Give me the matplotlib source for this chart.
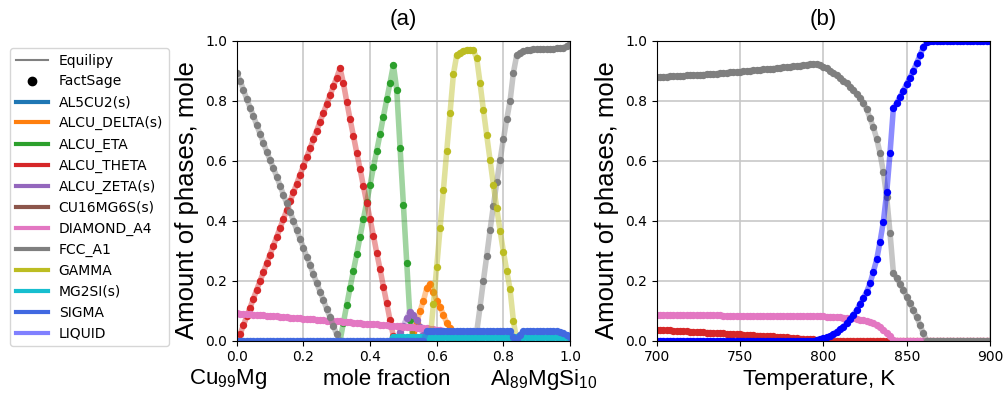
import numpy as np
import matplotlib
matplotlib.use("Agg")
import matplotlib.pyplot as plt
from matplotlib.lines import Line2D

plt.rcParams['mathtext.default'] = 'regular'
LABEL_FONT = ['Liberation Sans', 'DejaVu Sans']

# ---------------- panel (a): composition scan, step 0.01 ----------------
STEP_A = 0.01

fcc_a1_a_lo_start = 0.00
fcc_a1_a_lo = [0.891, 0.867, 0.836, 0.806, 0.777, 0.749, 0.719, 0.689, 0.660, 0.630,
               0.602, 0.575, 0.547, 0.517, 0.486, 0.458, 0.430, 0.400, 0.369, 0.339,
               0.310, 0.280, 0.252, 0.221, 0.193, 0.163, 0.136, 0.105, 0.078, 0.049,
               0.021, 0.0]
fcc_a1_a_hi_start = 0.71
fcc_a1_a_hi = [0.0, 0.030, 0.113, 0.200, 0.283, 0.369, 0.450, 0.528, 0.602, 0.672,
               0.738, 0.799, 0.893, 0.952, 0.960, 0.965, 0.968, 0.970, 0.971, 0.972,
               0.972, 0.973, 0.973, 0.973, 0.973, 0.974, 0.975, 0.977, 0.982, 0.990]

theta_a_start = 0.00
theta_a = [0.0, 0.022, 0.051, 0.081, 0.110, 0.140, 0.170, 0.199, 0.228, 0.258,
           0.287, 0.317, 0.346, 0.376, 0.405, 0.435, 0.464, 0.494, 0.523, 0.553,
           0.582, 0.612, 0.641, 0.671, 0.700, 0.730, 0.759, 0.789, 0.818, 0.848,
           0.877, 0.908, 0.858, 0.797, 0.738, 0.683, 0.627, 0.572, 0.515, 0.460,
           0.405, 0.350, 0.293, 0.238, 0.180, 0.125, 0.068, 0.015, 0.0]

eta_a_start = 0.31
eta_a = [0.0, 0.060, 0.119, 0.177, 0.233, 0.289, 0.347, 0.405, 0.462, 0.519,
         0.578, 0.633, 0.689, 0.747, 0.804, 0.860, 0.919, 0.836, 0.643, 0.453,
         0.260, 0.070, 0.0]

zeta_a_start = 0.48
zeta_a = [0.0, 0.030, 0.050, 0.075, 0.097, 0.085, 0.068, 0.045, 0.020, 0.0]

delta_a_start = 0.52
delta_a = [0.0, 0.030, 0.060, 0.099, 0.133, 0.175, 0.189, 0.163, 0.133, 0.113,
           0.086, 0.060, 0.043, 0.020, 0.0]

gamma_a_start = 0.58
gamma_a = [0.0, 0.122, 0.247, 0.375, 0.502, 0.632, 0.760, 0.888, 0.952, 0.960,
           0.966, 0.970, 0.970, 0.968, 0.941, 0.858, 0.769, 0.684, 0.602, 0.519,
           0.441, 0.367, 0.297, 0.233, 0.171, 0.066, 0.0]

diamond_a_start = 0.00
diamond_a = [0.091, 0.090, 0.089, 0.089, 0.088, 0.087, 0.086, 0.085, 0.084, 0.083,
             0.082, 0.081, 0.081, 0.080, 0.079, 0.078, 0.077, 0.076, 0.075, 0.074,
             0.073, 0.073, 0.072, 0.071, 0.070, 0.069, 0.068, 0.067, 0.066, 0.065,
             0.064, 0.064, 0.063, 0.062, 0.061, 0.060, 0.059, 0.058, 0.057, 0.056,
             0.056, 0.055, 0.054, 0.053, 0.052, 0.051, 0.050, 0.049, 0.049, 0.048,
             0.047, 0.046, 0.045, 0.044, 0.043, 0.043, 0.042, 0.041, 0.040, 0.038,
             0.036, 0.034, 0.032, 0.030, 0.028, 0.026, 0.024, 0.022, 0.020, 0.0]

mg2si_a_start = 0.46
mg2si_a = [0.0, 0.012, 0.012, 0.012, 0.012, 0.012, 0.012, 0.012, 0.012, 0.012,
           0.012, 0.012, 0.012, 0.012, 0.012, 0.012, 0.012, 0.012, 0.012, 0.012,
           0.012, 0.012, 0.012, 0.012, 0.012, 0.012, 0.012, 0.012, 0.012, 0.012,
           0.012, 0.012, 0.012, 0.012, 0.012, 0.012, 0.012, 0.012, 0.012, 0.012,
           0.012, 0.012, 0.012, 0.012, 0.012, 0.012, 0.012, 0.012, 0.012, 0.012,
           0.012, 0.012, 0.012, 0.012, 0.012]

sigma_a_start = 0.00
sigma_a = [0.0, 0.0, 0.0, 0.0, 0.0, 0.0, 0.0, 0.0, 0.0, 0.0,
           0.0, 0.0, 0.0, 0.0, 0.0, 0.0, 0.0, 0.0, 0.0, 0.0,
           0.0, 0.0, 0.0, 0.0, 0.0, 0.0, 0.0, 0.0, 0.0, 0.0,
           0.0, 0.0, 0.0, 0.0, 0.0, 0.0, 0.0, 0.0, 0.0, 0.0,
           0.0, 0.0, 0.0, 0.0, 0.0, 0.0, 0.0, 0.0, 0.0, 0.0,
           0.0, 0.0, 0.0, 0.0, 0.0, 0.0, 0.0, 0.032, 0.032, 0.032,
           0.032, 0.032, 0.032, 0.032, 0.032, 0.032, 0.032, 0.032, 0.032, 0.032,
           0.032, 0.032, 0.032, 0.032, 0.032, 0.032, 0.032, 0.032, 0.032, 0.032,
           0.032, 0.032, 0.032, 0.012, 0.005, 0.020, 0.032, 0.032, 0.032, 0.032,
           0.032, 0.032, 0.032, 0.032, 0.032, 0.032, 0.031, 0.029, 0.025, 0.019,
           0.013]

# ---------------- panel (b): temperature scan, step 2 K ----------------
STEP_B = 2
T0 = 700

fcc_a1_b = [0.879, 0.879, 0.880, 0.880, 0.881, 0.881, 0.882, 0.882, 0.883, 0.884,
            0.884, 0.885, 0.886, 0.886, 0.887, 0.888, 0.889, 0.889, 0.890, 0.891,
            0.892, 0.893, 0.894, 0.895, 0.896, 0.897, 0.898, 0.899, 0.900, 0.901,
            0.902, 0.903, 0.904, 0.905, 0.906, 0.907, 0.909, 0.910, 0.911, 0.912,
            0.913, 0.915, 0.916, 0.917, 0.919, 0.920, 0.921, 0.922, 0.923, 0.918,
            0.913, 0.908, 0.900, 0.893, 0.886, 0.877, 0.867, 0.858, 0.847, 0.836,
            0.822, 0.810, 0.793, 0.771, 0.741, 0.711, 0.673, 0.624, 0.562, 0.478,
            0.358, 0.227, 0.208, 0.189, 0.169, 0.147, 0.124, 0.102, 0.080, 0.052,
            0.024, 0.0, 0.0, 0.0, 0.0, 0.0, 0.0, 0.0, 0.0, 0.0,
            0.0, 0.0, 0.0, 0.0, 0.0, 0.0, 0.0, 0.0, 0.0, 0.0,
            0.0]

liquid_b = [0.0, 0.0, 0.0, 0.0, 0.0, 0.0, 0.0, 0.0, 0.0, 0.0,
            0.0, 0.0, 0.0, 0.0, 0.0, 0.0, 0.0, 0.0, 0.0, 0.0,
            0.0, 0.0, 0.0, 0.0, 0.0, 0.0, 0.0, 0.0, 0.0, 0.0,
            0.0, 0.0, 0.0, 0.0, 0.0, 0.0, 0.0, 0.0, 0.0, 0.0,
            0.0, 0.0, 0.0, 0.0, 0.0, 0.0, 0.0, 0.0, 0.002, 0.005,
            0.008, 0.011, 0.016, 0.022, 0.030, 0.038, 0.047, 0.058, 0.071, 0.086,
            0.102, 0.122, 0.141, 0.163, 0.191, 0.230, 0.271, 0.330, 0.397, 0.494,
            0.627, 0.775, 0.791, 0.813, 0.833, 0.856, 0.877, 0.900, 0.925, 0.952,
            0.978, 0.995, 1.0, 1.0, 1.0, 1.0, 1.0, 1.0, 1.0, 1.0,
            1.0, 1.0, 1.0, 1.0, 1.0, 1.0, 1.0, 1.0, 1.0, 1.0,
            1.0]

theta_b = [0.036, 0.035, 0.035, 0.034, 0.034, 0.033, 0.033, 0.032, 0.031, 0.031,
           0.030, 0.030, 0.029, 0.028, 0.028, 0.027, 0.027, 0.026, 0.025, 0.025,
           0.024, 0.023, 0.023, 0.022, 0.021, 0.021, 0.020, 0.019, 0.019, 0.018,
           0.017, 0.017, 0.016, 0.015, 0.014, 0.014, 0.013, 0.012, 0.011, 0.011,
           0.010, 0.009, 0.008, 0.007, 0.007, 0.006, 0.005, 0.004, 0.003, 0.002,
           0.001, 0.0, 0.0, 0.0, 0.0, 0.0, 0.0, 0.0, 0.0, 0.0,
           0.0, 0.0, 0.0, 0.0, 0.0, 0.0, 0.0, 0.0, 0.0, 0.0,
           0.0, 0.0, 0.0, 0.0, 0.0, 0.0, 0.0, 0.0, 0.0, 0.0,
           0.0, 0.0, 0.0, 0.0, 0.0, 0.0, 0.0, 0.0, 0.0, 0.0,
           0.0, 0.0, 0.0, 0.0, 0.0, 0.0, 0.0, 0.0, 0.0, 0.0,
           0.0]

diamond_b = [0.086, 0.086, 0.086, 0.086, 0.086, 0.085, 0.085, 0.085, 0.085, 0.085,
             0.085, 0.085, 0.084, 0.084, 0.084, 0.084, 0.084, 0.084, 0.084, 0.084,
             0.083, 0.083, 0.083, 0.083, 0.083, 0.083, 0.083, 0.083, 0.082, 0.082,
             0.082, 0.082, 0.082, 0.082, 0.082, 0.082, 0.082, 0.082, 0.082, 0.082,
             0.082, 0.081, 0.081, 0.081, 0.081, 0.081, 0.081, 0.081, 0.081, 0.081,
             0.081, 0.080, 0.080, 0.080, 0.079, 0.078, 0.077, 0.076, 0.075, 0.074,
             0.072, 0.070, 0.068, 0.065, 0.062, 0.058, 0.052, 0.045, 0.036, 0.026,
             0.014, 0.003, 0.0, 0.0, 0.0, 0.0, 0.0, 0.0, 0.0, 0.0,
             0.0, 0.0, 0.0, 0.0, 0.0, 0.0, 0.0, 0.0, 0.0, 0.0,
             0.0, 0.0, 0.0, 0.0, 0.0, 0.0, 0.0, 0.0, 0.0, 0.0,
             0.0]

# legend entries (name, colour)
phases = ["AL5CU2(s)", "ALCU_DELTA(s)", "ALCU_ETA", "ALCU_THETA", "ALCU_ZETA(s)",
          "CU16MG6S(s)", "DIAMOND_A4", "FCC_A1", "GAMMA", "MG2SI(s)", "SIGMA", "LIQUID"]
phase_colors = ["tab:blue", "tab:orange", "tab:green", "tab:red", "tab:purple",
                "tab:brown", "tab:pink", "tab:gray", "tab:olive", "tab:cyan",
                "royalblue", "#8080ff"]


def draw(ax, x, y, color):
    ax.plot(x, y, '-', color=color, lw=4.0, alpha=0.45)
    ax.plot(x, y, 'o', color=color, ms=5.3, mew=0)


def xa(start, vals):
    return np.round(start + STEP_A * np.arange(len(vals)), 2)


def xb(vals):
    return T0 + STEP_B * np.arange(len(vals))


fig = plt.figure(figsize=(10.04, 3.93), dpi=100)
ax_a = fig.add_axes([0.2358, 0.1331, 0.332, 0.7634])
ax_b = fig.add_axes([0.6541, 0.1331, 0.332, 0.7634])

# panel (a)
draw(ax_a, xa(delta_a_start, delta_a), delta_a, "tab:orange")
draw(ax_a, xa(eta_a_start, eta_a), eta_a, "tab:green")
draw(ax_a, xa(theta_a_start, theta_a), theta_a, "tab:red")
draw(ax_a, xa(zeta_a_start, zeta_a), zeta_a, "tab:purple")
draw(ax_a, xa(diamond_a_start, diamond_a), diamond_a, "tab:pink")
draw(ax_a, xa(fcc_a1_a_lo_start, fcc_a1_a_lo), fcc_a1_a_lo, "tab:gray")
draw(ax_a, xa(fcc_a1_a_hi_start, fcc_a1_a_hi), fcc_a1_a_hi, "tab:gray")
draw(ax_a, xa(gamma_a_start, gamma_a), gamma_a, "tab:olive")
draw(ax_a, xa(mg2si_a_start, mg2si_a), mg2si_a, "tab:cyan")
draw(ax_a, xa(sigma_a_start, sigma_a), sigma_a, "royalblue")

# panel (b)
draw(ax_b, xb(theta_b), theta_b, "tab:red")
draw(ax_b, xb(diamond_b), diamond_b, "tab:pink")
draw(ax_b, xb(fcc_a1_b), fcc_a1_b, "tab:gray")
draw(ax_b, xb(liquid_b), liquid_b, "blue")

for ax in (ax_a, ax_b):
    ax.set_ylim(0, 1)
    ax.set_yticks([0, 0.2, 0.4, 0.6, 0.8, 1.0])
    ax.grid(True, color='#c8c8c8', lw=1.2)
    ax.set_axisbelow(True)
    ax.set_ylabel("Amount of phases, mole", fontsize=18.5, family=LABEL_FONT)
    ax.yaxis.set_label_coords(-0.112, 0.47)

ax_a.set_xlim(0, 1)
ax_a.set_xticks([0, 0.2, 0.4, 0.6, 0.8, 1.0])
ax_b.set_xlim(700, 900)
ax_b.set_xticks([700, 750, 800, 850, 900])

ax_a.set_title("(a)", fontsize=16, family=LABEL_FONT, pad=11)
ax_b.set_title("(b)", fontsize=16, family=LABEL_FONT, pad=11)

LAB_Y = -0.128
ax_a.text(-0.026, LAB_Y, "Cu$_{99}$Mg", transform=ax_a.transAxes,
          ha='center', va='center', fontsize=16, family=LABEL_FONT)
ax_a.text(0.451, LAB_Y, "mole fraction", transform=ax_a.transAxes,
          ha='center', va='center', fontsize=16, family=LABEL_FONT)
ax_a.text(0.92, LAB_Y, "Al$_{89}$MgSi$_{10}$", transform=ax_a.transAxes,
          ha='center', va='center', fontsize=16, family=LABEL_FONT)
ax_b.text(0.487, LAB_Y, "Temperature, K", transform=ax_b.transAxes,
          ha='center', va='center', fontsize=16, family=LABEL_FONT)

handles = [Line2D([], [], color='gray', lw=1.5, label="Equilipy"),
           Line2D([], [], color='black', marker='o', ls='none', ms=6, label="FactSage")]
for name, c in zip(phases, phase_colors):
    handles.append(Line2D([], [], color=c, lw=3, label=name))
fig.legend(handles=handles, loc='upper left', bbox_to_anchor=(0.01, 0.878),
           borderaxespad=0, fontsize=10, labelspacing=0.5, handlelength=2.3)

fig.savefig("out.png", dpi=100)
